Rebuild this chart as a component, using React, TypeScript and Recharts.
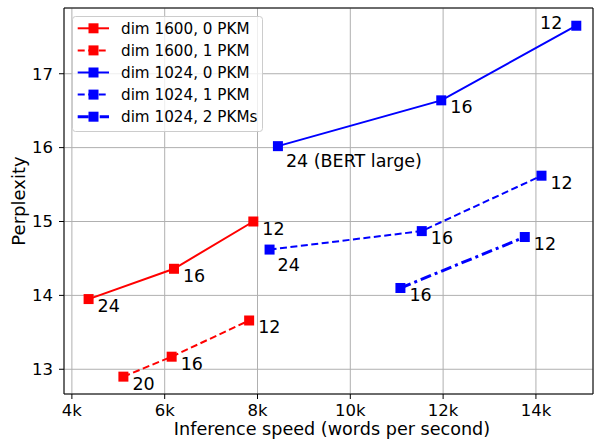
import React from 'react';
import { LineChart, Line, XAxis, YAxis, CartesianGrid, ReferenceLine, LabelList, Label } from 'recharts';

// ---- data ----
const speed1600pkm0 = [4360, 6200, 7910];
const ppl1600pkm0 = [13.95, 14.36, 15.0];
const layers1600pkm0 = ['24', '16', '12'];

const speed1600pkm1 = [5110, 6150, 7820];
const ppl1600pkm1 = [12.9, 13.17, 13.66];
const layers1600pkm1 = ['20', '16', '12'];

const speed1024pkm0 = [8440, 11960, 14870];
const ppl1024pkm0 = [16.02, 16.64, 17.65];
const layers1024pkm0 = ['24 (BERT large)', '16', '12'];

const speed1024pkm1 = [8260, 11540, 14120];
const ppl1024pkm1 = [14.62, 14.87, 15.62];
const layers1024pkm1 = ['24', '16', '12'];

const speed1024pkm2 = [11080, 13760];
const ppl1024pkm2 = [14.1, 14.79];
const layers1024pkm2 = ['16', '12'];

const seriesNames = ['dim 1600, 0 PKM', 'dim 1600, 1 PKM', 'dim 1024, 0 PKM', 'dim 1024, 1 PKM', 'dim 1024, 2 PKMs'];
const xTicks = [4000, 6000, 8000, 10000, 12000, 14000];
const yTicks = [13, 14, 15, 16, 17];

const X_DOMAIN: [number, number] = [3830, 15230];
const Y_DOMAIN: [number, number] = [12.665, 17.89];

const build = (xs: number[], ys: number[], ls: string[]) => xs.map((x, i) => ({ x, y: ys[i], layer: ls[i] }));

const RED = '#ff0000';
const BLUE = '#0000ff';
const FONT = 'DejaVu Sans, sans-serif';

const series = [
  { name: seriesNames[0], data: build(speed1600pkm0, ppl1600pkm0, layers1600pkm0), color: RED, dash: undefined as string | undefined, width: 2 },
  { name: seriesNames[1], data: build(speed1600pkm1, ppl1600pkm1, layers1600pkm1), color: RED, dash: '7 3.5', width: 2 },
  { name: seriesNames[2], data: build(speed1024pkm0, ppl1024pkm0, layers1024pkm0), color: BLUE, dash: undefined, width: 2 },
  { name: seriesNames[3], data: build(speed1024pkm1, ppl1024pkm1, layers1024pkm1), color: BLUE, dash: '7 3.5', width: 2 },
  { name: seriesNames[4], data: build(speed1024pkm2, ppl1024pkm2, layers1024pkm2), color: BLUE, dash: '11 4 3 4', width: 3 },
];

// label placement: default lower-right; a few exceptions
const placement = (si: number, idx: number) => {
  if (si === 2 && idx === 2) return { dx: -14, dy: 3, anchor: 'end' };
  if ((si === 2 || si === 3) && idx === 0) return { dx: 8, dy: 21, anchor: 'start' };
  return { dx: 9, dy: 13, anchor: 'start' };
};

const makeLabel = (si: number) => (props: any) => {
  const { x, y, value, index } = props;
  const p = placement(si, index);
  return (
    <text key={`lbl-${si}-${index}`} x={x + p.dx} y={y + p.dy} textAnchor={p.anchor} fontSize={17.5} fontFamily={FONT} fill="#000">
      {value}
    </text>
  );
};

const makeDot = (color: string) => (props: any) => {
  const { cx, cy, index } = props;
  return <rect key={`dot-${color}-${index}-${cx}`} x={cx - 5} y={cy - 5} width={10} height={10} fill={color} />;
};

const LegendOverlay = () => (
  <svg width={594} height={440} style={{ position: 'absolute', left: 0, top: 0, pointerEvents: 'none' }}>
    <rect x={72.5} y={16.5} width={190} height={115} rx={3} fill="#ffffff" fillOpacity={0.8} stroke="#cccccc" strokeWidth={1} />
    {series.map((s, i) => {
      const cy = 28.3 + i * 22.1;
      return (
        <g key={s.name}>
          <line x1={77.7} x2={109} y1={cy} y2={cy} stroke={s.color} strokeWidth={s.width} strokeDasharray={s.dash} />
          <rect x={88.5} y={cy - 5} width={10} height={10} fill={s.color} />
          <text x={121} y={cy + 5.5} fontSize={15.2} fontFamily={FONT} fill="#000">{s.name}</text>
        </g>
      );
    })}
  </svg>
);

export default function App() {
  return (
    <div style={{ position: 'absolute', left: 0, top: 0, width: 594, height: 440, background: '#fff' }}>
      <LineChart width={594} height={440} margin={{ top: 8, right: 1, left: 0, bottom: 0 }}>
        <CartesianGrid stroke="#b0b0b0" strokeWidth={1} />
        <XAxis
          type="number"
          dataKey="x"
          domain={X_DOMAIN}
          allowDataOverflow
          ticks={xTicks}
          tickFormatter={(v: number) => `${v / 1000}k`}
          height={46}
          tickSize={5}
          tickMargin={5}
          stroke="#000"
          tick={{ fill: '#000', fontSize: 16.5, fontFamily: FONT }}
        >
          <Label
            content={() => (
              <text x={332} y={435.3} textAnchor="middle" fontSize={17.6} fontFamily={FONT} fill="#000">
                Inference speed (words per second)
              </text>
            )}
          />
        </XAxis>
        <YAxis
          type="number"
          dataKey="y"
          domain={Y_DOMAIN}
          allowDataOverflow
          ticks={yTicks}
          width={64}
          tickSize={5}
          tickMargin={6}
          stroke="#000"
          tick={{ fill: '#000', fontSize: 16.5, fontFamily: FONT }}
        >
          <Label
            content={() => (
              <text x={25} y={201} transform="rotate(-90 25 201)" textAnchor="middle" fontSize={18} fontFamily={FONT} fill="#000">
                Perplexity
              </text>
            )}
          />
        </YAxis>
        <ReferenceLine y={Y_DOMAIN[1]} stroke="#000" strokeWidth={1} />
        <ReferenceLine x={X_DOMAIN[1]} stroke="#000" strokeWidth={1} />
        {series.map((s, si) => (
          <Line
            key={s.name}
            data={s.data}
            dataKey="y"
            name={s.name}
            type="linear"
            stroke={s.color}
            strokeWidth={s.width}
            strokeDasharray={s.dash}
            dot={makeDot(s.color)}
            activeDot={false}
            isAnimationActive={false}
          >
            <LabelList dataKey="layer" content={makeLabel(si)} />
          </Line>
        ))}
      </LineChart>
      <LegendOverlay />
    </div>
  );
}
